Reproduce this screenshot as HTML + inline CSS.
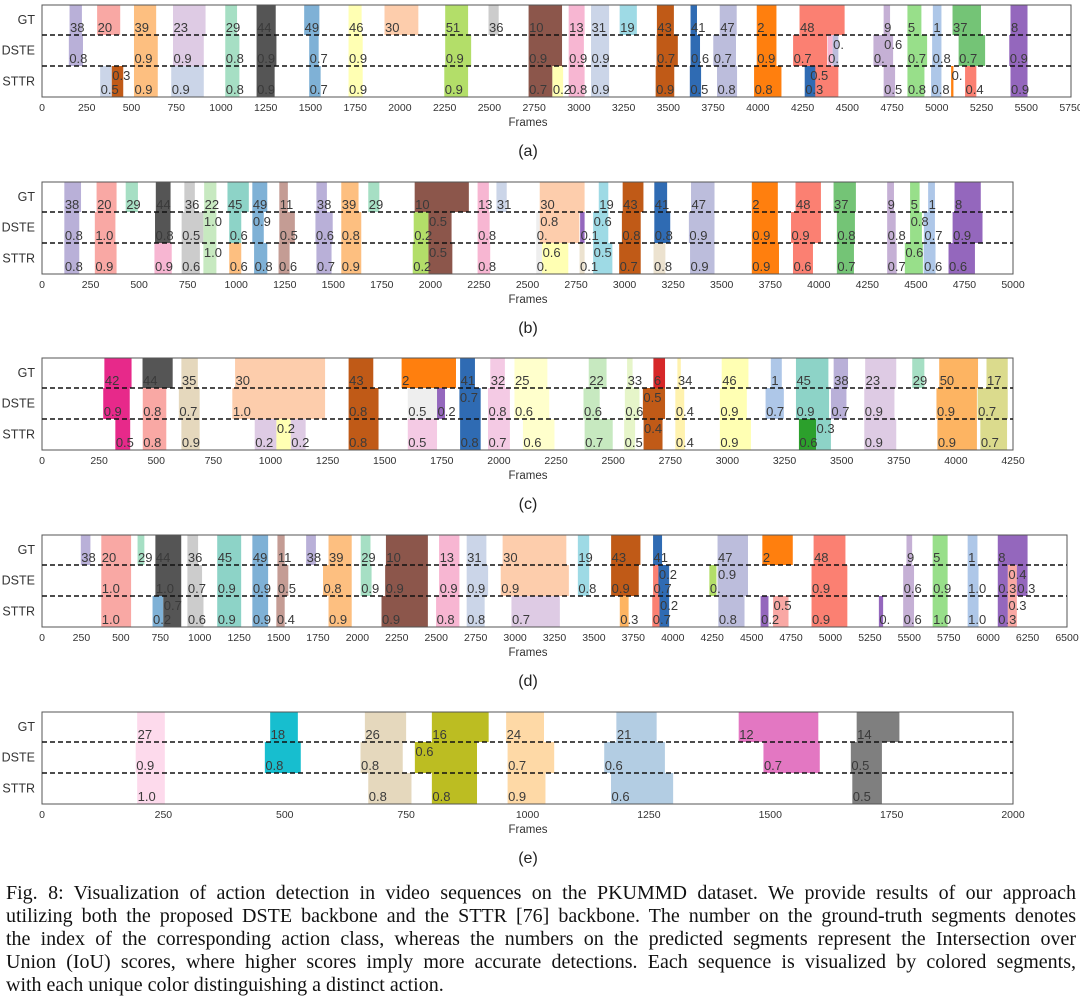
<!DOCTYPE html>
<html><head><meta charset="utf-8"><title>PKUMMD action detection visualization</title>
<style>
html,body{margin:0;padding:0;background:#fff;width:1080px;height:1006px;overflow:hidden;}
#chart{position:absolute;left:0;top:0;}
#caption{position:absolute;left:6px;top:882px;width:1070px;font-family:"Liberation Serif",serif;font-size:20px;line-height:23px;color:#111;}
#caption div{text-align:justify;text-align-last:justify;white-space:normal;height:23px;overflow:hidden;}
#caption div.last{text-align-last:left;}
</style></head>
<body>
<svg id="chart" width="1080" height="880" xmlns="http://www.w3.org/2000/svg"></svg>
<div id="caption">
<div>Fig. 8: Visualization of action detection in video sequences on the PKUMMD dataset. We provide results of our approach</div>
<div>utilizing both the proposed DSTE backbone and the STTR [76] backbone. The number on the ground-truth segments denotes</div>
<div>the index of the corresponding action class, whereas the numbers on the predicted segments represent the Intersection over</div>
<div>Union (IoU) scores, where higher scores imply more accurate detections. Each sequence is visualized by colored segments,</div>
<div class="last">with each unique color distinguishing a distinct action.</div>
</div>
<script>
// ---- Panel (a) data ----
const aGT = [[38,154,223],[20,308,437],[39,514,638],[23,732,914],[29,1024,1090],[44,1199,1306],[49,1465,1550],[46,1713,1786],[30,1914,2103],[51,2253,2381],[36,2495,2552],[10,2719,2906],[13,2943,3032],[31,3068,3169],[19,3228,3324],[43,3436,3531],[41,3624,3660],[47,3787,3882],[2,3994,4104],[48,4233,4485],[9,4703,4739],[5,4836,4914],[1,4978,5026],[37,5088,5247],[8,5412,5507]];
const aDSTE = [[38,150,229,'0.8'],[39,514,647,'0.9'],[23,732,904,'0.9'],[29,1024,1103,'0.8'],[44,1199,1310,'0.9'],[49,1493,1546,'0.7'],[46,1713,1792,'0.9'],[51,2253,2398,'0.9'],[10,2719,2906,'0.9'],[13,2943,3028,'0.9'],[31,3068,3169,'0.9'],[43,3434,3553,'0.7'],[41,3624,3677,'0.6'],[47,3751,3878,'0.7'],[2,3994,4104,'0.9'],[48,4197,4387,'0.7'],[13,4390,4418,'0.'],[47,4418,4450,'0.',1],[9,4646,4714,'0.'],[9,4703,4756,'0.6',1],[5,4836,4946,'0.7'],[1,4974,5026,'0.8'],[37,5122,5270,'0.7'],[8,5405,5507,'0.9']];
const aSTTR = [[31,325,390,'0.5'],[43,390,454,'0.3',1],[39,514,647,'0.9'],[31,722,904,'0.9'],[29,1024,1103,'0.8'],[44,1199,1300,'0.9'],[49,1493,1557,'0.7'],[46,1713,1792,'0.9'],[51,2248,2381,'0.9'],[10,2719,2852,'0.7'],[46,2852,2912,'0.2'],[13,2943,3032,'0.8'],[31,3068,3169,'0.9'],[43,3429,3533,'0.9'],[41,3620,3683,'0.5'],[47,3772,3884,'0.8'],[2,3979,4132,'0.8'],[48,4290,4450,'0.5',1],[41,4262,4321,'0.3'],[9,4703,4767,'0.5'],[5,4836,4931,'0.8'],[1,4968,5026,'0.8'],[2,5080,5093,'0.',1],[48,5158,5221,'0.4'],[8,5412,5507,'0.9']];
// ---- Panel (b) data ----
const bGT = [[38,115,201],[20,281,384],[29,431,494],[44,586,662],[36,733,787],[22,835,898],[45,955,1065],[49,1083,1160],[11,1222,1266],[38,1413,1467],[39,1541,1630],[29,1680,1737],[10,1919,2198],[13,2243,2301],[31,2340,2393],[30,2563,2794],[19,2867,2916],[43,2990,3097],[41,3153,3219],[47,3342,3463],[2,3655,3789],[48,3880,4011],[37,4076,4191],[9,4352,4387],[5,4470,4519],[1,4563,4598],[8,4699,4834]];
const bDSTE = [[38,115,192,'0.8'],[20,272,378,'1.0'],[44,582,662,'0.8'],[36,719,831,'0.5'],[22,831,898,'1.0',1],[45,964,1026,'0.6'],[49,1083,1142,'0.9',1],[11,1222,1302,'0.5'],[38,1408,1497,'0.6'],[39,1541,1644,'0.8'],[51,1914,1990,'0.2'],[10,1990,2109,'0.5',1],[13,2243,2305,'0.8'],['g',2545,2563,'0.'],[30,2563,2767,'0.8',1],[8,2771,2794,'0.1'],[19,2838,2916,'0.6',1],[43,2986,3083,'0.8'],[41,3153,3235,'0.8'],[47,3331,3463,'0.9'],[2,3655,3789,'0.9'],[48,3857,4011,'0.9'],[37,4093,4186,'0.8'],[9,4352,4396,'0.8'],[5,4470,4531,'0.8',1],[1,4541,4598,'0.7'],[8,4689,4843,'0.9']];
const bSTTR = [[38,115,192,'0.8'],[20,272,384,'0.9'],[13,579,668,'0.9'],[36,719,813,'0.6'],[22,831,898,'1.0',1],[39,964,1026,'0.6'],[49,1092,1160,'0.8'],[11,1218,1275,'0.6'],[38,1413,1491,'0.7'],[39,1541,1644,'0.9'],[51,1909,1990,'0.2'],[10,1990,2113,'0.5',1],[13,2243,2308,'0.8'],['g',2545,2575,'0.'],[46,2575,2710,'0.6',1],['t',2768,2794,'0.1'],[19,2838,2937,'0.5',1],[43,2972,3083,'0.7'],['t',3149,3210,'0.8'],[47,3337,3463,'0.9'],[2,3655,3795,'0.9'],[48,3867,3970,'0.6'],[37,4093,4181,'0.7'],[9,4352,4401,'0.7'],[5,4443,4536,'0.6',1],[1,4540,4601,'0.6'],[8,4668,4804,'0.6']];
// ---- Panel (c) data ----
const cGT = [[42,273,392],[44,440,572],[35,610,682],[30,845,1239],[43,1342,1450],[2,1574,1812],[41,1830,1895],[32,1962,2026],[25,2068,2212],[22,2393,2471],[33,2561,2585],[6,2676,2727],[34,2781,2796],[46,2975,3092],[1,3190,3238],[45,3300,3442],[38,3465,3528],[23,3603,3739],[29,3809,3862],[50,3927,4097],[17,4134,4227]];
const cDSTE = [[42,268,384,'0.9'],[20,441,544,'0.8'],[35,599,690,'0.7'],[30,833,1239,'1.0'],[43,1342,1473,'0.8'],['g',1601,1729,'0.5'],[8,1729,1764,'0.2'],[41,1827,1920,'0.7',1],[32,1952,2048,'0.8'],[25,2068,2220,'0.6'],[22,2370,2441,'0.6'],[33,2551,2615,'0.6'],[43,2630,2727,'0.5',1],[34,2772,2811,'0.4'],[46,2967,3085,'0.9'],[1,3167,3247,'0.7'],[45,3300,3445,'0.9'],[38,3453,3521,'0.7'],[23,3599,3731,'0.9'],[50,3915,4092,'0.9'],[17,4095,4227,'0.7']];
const cSTTR = [[42,321,386,'0.5'],[20,441,544,'0.8'],[35,610,690,'0.9'],[23,931,1026,'0.2'],[46,1026,1089,'0.2',1],[23,1089,1154,'0.2'],[43,1342,1473,'0.8'],[32,1601,1729,'0.5'],[41,1830,1920,'0.8'],[32,1952,2048,'0.7'],[25,2105,2243,'0.6'],[22,2375,2498,'0.7'],[33,2548,2596,'0.5'],[43,2633,2716,'0.4',1],[34,2772,2814,'0.4'],[46,2967,3103,'0.9'],['grn',3313,3388,'0.6'],[45,3388,3453,'0.3',1],[23,3599,3739,'0.9'],[50,3919,4092,'0.9'],[17,4107,4224,'0.7']];
// ---- Panel (d) data ----
const dGT = [[38,246,307],[20,376,565],[29,606,649],[44,719,883],[36,922,990],[45,1111,1263],[49,1334,1434],[11,1493,1539],[38,1675,1737],[39,1817,1964],[29,2021,2083],[10,2181,2447],[13,2518,2647],[31,2693,2818],[30,2921,3325],[19,3398,3470],[43,3609,3795],[41,3875,3932],[47,4284,4477],[2,4568,4761],[48,4893,5095],[9,5482,5518],[5,5648,5743],[1,5870,5932],[8,6061,6250]];
const dDSTE = [[20,376,565,'1.0'],[44,719,883,'1.0'],[36,922,1015,'0.7'],[45,1111,1263,'0.9'],[49,1334,1434,'0.9'],[11,1493,1562,'0.5'],[39,1782,1964,'0.8'],[29,2021,2090,'0.9'],[10,2176,2447,'0.9'],[13,2518,2647,'0.9'],[31,2693,2829,'0.9'],[30,2909,3341,'0.9'],[19,3398,3470,'0.8'],[43,3609,3784,'0.9'],[48,3875,3920,'0.7'],[41,3909,3977,'0.2',1],[51,4232,4277,'0.'],[47,4284,4477,'0.9',1],[48,4880,5107,'0.9'],[9,5461,5530,'0.6'],[5,5648,5743,'0.9'],[1,5870,5939,'1.0'],[8,6061,6125,'0.3'],[20,6125,6182,'0.4',1],[8,6182,6250,'0.3']];
const dSTTR = [[20,376,565,'1.0'],[49,701,769,'0.2'],[44,769,883,'0.7',1],[36,922,1024,'0.6'],[45,1111,1263,'0.9'],[49,1334,1434,'0.9'],[11,1486,1539,'0.4'],[39,1817,1964,'0.9'],[10,2153,2447,'0.9'],[13,2499,2647,'0.8'],[31,2693,2807,'0.8'],[23,2977,3284,'0.7'],[50,3664,3720,'0.3'],[48,3870,3920,'0.7'],[41,3916,3977,'0.2',1],[47,4289,4455,'0.8'],[8,4557,4607,'0.2'],[20,4636,4734,'0.5',1],[48,4880,5107,'0.9'],[8,5307,5334,'0.'],[9,5461,5530,'0.6'],[5,5648,5743,'1.0'],[1,5870,5939,'1.0'],[8,6061,6125,'0.3'],[20,6125,6182,'0.3',1]];
// ---- Panel (e) data ----
const eGT = [[27,196,253],[18,470,527],[26,665,750],[16,803,920],[24,956,1034],[21,1183,1266],[12,1435,1599],[14,1678,1766]];
const eDSTE = [[27,193,253,'0.9'],[18,459,533,'0.8'],[26,656,743,'0.8'],[16,768,896,'0.6',1],[24,959,1055,'0.7'],[21,1158,1283,'0.6'],[12,1486,1602,'0.7'],[14,1666,1730,'0.5']];
const eSTTR = [[27,196,253,'1.0'],[26,672,761,'0.8'],[16,803,896,'0.8'],[24,959,1037,'0.9'],[21,1172,1300,'0.6'],[14,1669,1730,'0.5']];
// ---- Tick labels ----
const ticksA = [0,250,500,750,1000,1250,1500,1750,2000,2250,2500,2750,3000,3250,3500,3750,4000,4250,4500,4750,5000,5250,5500,5750];
const ticksB = [0,250,500,750,1000,1250,1500,1750,2000,2250,2500,2750,3000,3250,3500,3750,4000,4250,4500,4750,5000];
const ticksC = [0,250,500,750,1000,1250,1500,1750,2000,2250,2500,2750,3000,3250,3500,3750,4000,4250];
const ticksD = [0,250,500,750,1000,1250,1500,1750,2000,2250,2500,2750,3000,3250,3500,3750,4000,4250,4500,4750,5000,5250,5500,5750,6000,6250,6500];
const ticksE = [0,250,500,750,1000,1250,1500,1750,2000];
const rowNames = ['GT','DSTE','STTR'];

const COLORS = {1:'#aec7e8',2:'#ff7f0e',5:'#98df8a',6:'#d62728',8:'#9467bd',9:'#c5b0d5',10:'#8c564b',11:'#c49c94',12:'#e377c2',13:'#f7b6d2',14:'#7f7f7f',16:'#bcbd22',17:'#dbdb8d',18:'#17becf',19:'#9edae5',20:'#f9a8a4',21:'#b3cde3',22:'#c7e9c0',23:'#decbe4',24:'#fed9a6',25:'#ffffcc',26:'#e5d8bd',27:'#fddaec',29:'#a6dfc4',30:'#fdcdac',31:'#cbd5e8',32:'#f4cae4',33:'#e6f5c9',34:'#fff2ae',35:'#e5d8bd',36:'#cccccc',37:'#74c476',38:'#b9b0d8',39:'#fdbf80',41:'#2f6bb3',42:'#e7298a',43:'#c05a17',44:'#555555',45:'#8dd3c7',46:'#ffffb3',47:'#bcbddc',48:'#fb8072',49:'#7fb1d6',50:'#fdb462',51:'#b3de69','g':'#eeeeee','t':'#ece2cf','grn':'#2ca02c'};

const NS = 'http://www.w3.org/2000/svg';
const svg = document.getElementById('chart');
function mk(tag, attrs, parent){
  const el = document.createElementNS(NS, tag);
  for (const k in attrs) el.setAttribute(k, attrs[k]);
  (parent||svg).appendChild(el);
  return el;
}
const panels = [
  {id:'a', top:5, x0:42, x1:1071, max:5750, rows:[aGT,aDSTE,aSTTR], ticks:ticksA},
  {id:'b', top:182, x0:42, x1:1013, max:5000, rows:[bGT,bDSTE,bSTTR], ticks:ticksB},
  {id:'c', top:358, x0:42, x1:1013, max:4250, rows:[cGT,cDSTE,cSTTR], ticks:ticksC},
  {id:'d', top:535, x0:42, x1:1067, max:6500, rows:[dGT,dDSTE,dSTTR], ticks:ticksD},
  {id:'e', top:712, x0:42, x1:1013, max:2000, rows:[eGT,eDSTE,eSTTR], ticks:ticksE}
];
const rowBounds = [[0,30],[30,61],[61,92]];
panels.forEach(p => {
  const g = mk('g', {});
  
  
  const sx = v => p.x0 + (v / p.max) * (p.x1 - p.x0);
  p.rows.forEach((row, ri) => {
    const y0 = p.top + rowBounds[ri][0], y1 = p.top + rowBounds[ri][1];
    row.forEach(s => {
      const r = mk('rect', {x: sx(s[1]).toFixed(2), y: y0, width: Math.max(1, sx(s[2]) - sx(s[1])).toFixed(2), height: y1 - y0, fill: COLORS[s[0]] || '#ccc'}, g);
      
      
    });
    row.forEach(s => {
      const label = ri === 0 ? String(s[0]) : s[3];
      const lift = ri === 0 ? 0 : (s[4] ? 14 : 0);
      const t = mk('text', {x: (sx(s[1]) + 0.5).toFixed(2), y: y1 - 3 - lift, 'font-size': 13, fill: '#3a3a3a', 'font-family': '"Liberation Sans", sans-serif'}, g);
      t.textContent = label;
      
      
    });
  });
  const fr = mk('rect', {x: p.x0, y: p.top, width: p.x1 - p.x0, height: 92, fill: 'none', stroke: '#555', 'stroke-width': 1}, g);
  
  
  [30, 61].forEach(dy => {
    const l = mk('line', {x1: p.x0, x2: p.x1, y1: p.top + dy, y2: p.top + dy, stroke: '#111', 'stroke-width': 1.5, 'stroke-dasharray': '5,3'}, g);
    
    
  });
  rowNames.forEach((n, ri) => {
    const t = mk('text', {x: 35, y: p.top + (rowBounds[ri][0] + rowBounds[ri][1]) / 2 + 4, 'text-anchor': 'end', 'font-size': 12.5, fill: '#333', 'font-family': '"Liberation Sans", sans-serif'}, g);
    t.textContent = n;
    
    
  });
  p.ticks.forEach(v => {
    const t = mk('text', {x: sx(v).toFixed(2), y: p.top + 106, 'text-anchor': 'middle', 'font-size': 10.5, fill: '#333', 'font-family': '"Liberation Sans", sans-serif'}, g);
    t.textContent = v;
    
    
  });
  const xt = mk('text', {x: 528, y: p.top + 121, 'text-anchor': 'middle', 'font-size': 11.5, fill: '#333', 'font-family': '"Liberation Sans", sans-serif'}, g);
  xt.textContent = 'Frames';
  
  
  const pl = mk('text', {x: 528, y: p.top + 151, 'text-anchor': 'middle', 'font-size': 16, fill: '#222', 'font-family': '"Liberation Sans", sans-serif'}, g);
  pl.textContent = '(' + p.id + ')';
  
  
});
</script>
</body></html>
